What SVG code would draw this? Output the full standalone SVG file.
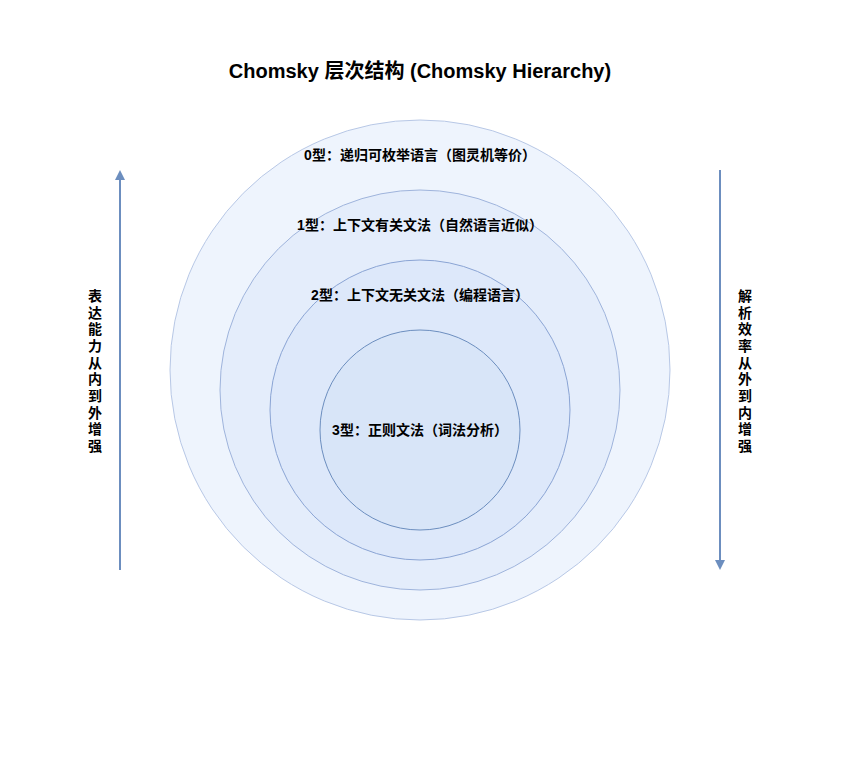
<svg xmlns="http://www.w3.org/2000/svg" width="860" height="760" viewBox="0 0 860 760">
<style>
text{font-family:"Liberation Sans","Noto Sans CJK SC",sans-serif;font-weight:bold;fill:#000}
.l{font-size:14px;text-anchor:middle}
.v{font-size:14px;text-anchor:middle}
</style>
<defs><marker id="a" markerWidth="10" markerHeight="10" refX="5" refY="5" orient="auto" markerUnits="userSpaceOnUse"><path d="M0,0L10,5L0,10z" fill="#6c8ebf"/></marker></defs>
<rect width="860" height="760" fill="#fff"/>
<text x="420" y="78" font-size="20" text-anchor="middle">Chomsky 层次结构 (Chomsky Hierarchy)</text>
<g id="type0"><circle cx="420" cy="370" r="250" fill="#eef4fd" stroke="#b8c8e6"/><text class="l" x="420" y="160">0型：递归可枚举语言（图灵机等价）</text></g>
<g id="type1"><circle cx="420" cy="390" r="200" fill="#e4edfb" stroke="#9fb4dc"/><text class="l" x="420" y="230">1型：上下文有关文法（自然语言近似）</text></g>
<g id="type2"><circle cx="420" cy="410" r="150" fill="#dde8fa" stroke="#8aa4d4"/><text class="l" x="420" y="300">2型：上下文无关文法（编程语言）</text></g>
<g id="type3"><circle cx="420" cy="430" r="100" fill="#d8e5f8" stroke="#6c8ebf"/><text class="l" x="420" y="435">3型：正则文法（词法分析）</text></g>
<g id="connectors" stroke="#6c8ebf" stroke-width="2">
<line x1="120" y1="570" x2="120" y2="175" marker-end="url(#a)"/>
<line x1="720" y1="170" x2="720" y2="565" marker-end="url(#a)"/>
</g>
<g id="left-label"><text class="v" x="95"><tspan x="95" y="301">表</tspan><tspan x="95" y="318">达</tspan><tspan x="95" y="334">能</tspan><tspan x="95" y="351">力</tspan><tspan x="95" y="368">从</tspan><tspan x="95" y="384">内</tspan><tspan x="95" y="401">到</tspan><tspan x="95" y="418">外</tspan><tspan x="95" y="434">增</tspan><tspan x="95" y="451">强</tspan></text></g>
<g id="right-label"><text class="v" x="745"><tspan x="745" y="301">解</tspan><tspan x="745" y="318">析</tspan><tspan x="745" y="334">效</tspan><tspan x="745" y="351">率</tspan><tspan x="745" y="368">从</tspan><tspan x="745" y="384">外</tspan><tspan x="745" y="401">到</tspan><tspan x="745" y="418">内</tspan><tspan x="745" y="434">增</tspan><tspan x="745" y="451">强</tspan></text></g>
</svg>
